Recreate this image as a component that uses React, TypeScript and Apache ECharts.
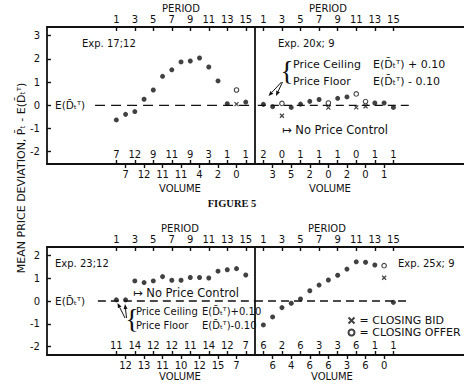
import React, { useEffect, useRef } from 'react';
import * as echarts from 'echarts';

// ---------- data ----------
const periods = [1, 2, 3, 4, 5, 6, 7, 8, 9, 10, 11, 12, 13, 14, 15];
const oddPeriods = [1, 3, 5, 7, 9, 11, 13, 15];
const evenPeriods = [2, 4, 6, 8, 10, 12, 14];
const topYTicks = [-2, -1, 0, 1, 2, 3];
const bottomYTicks = [-2, -1, 0, 1, 2];

// Exp. 17;12 (top left)
const exp17Mean = [-0.63, -0.39, -0.27, 0.26, 0.66, 1.25, 1.53, 1.87, 1.91, 2.04, 1.65, 1.05, 0.07, null, 0.14];
const exp17Bid = [null, null, null, null, null, null, null, null, null, null, null, null, null, 0.05, null];
const exp17Offer = [null, null, null, null, null, null, null, null, null, null, null, null, null, 0.66, null];
const exp17Volume = [7, 7, 12, 12, 9, 11, 11, 11, 9, 4, 3, 2, 1, 0, 1];

// Exp. 20x; 9 (top right)
const exp20Mean = [0.04, -0.06, null, -0.09, 0.05, 0.17, 0.25, null, 0.3, 0.36, null, null, 0.1, 0.1, -0.09];
const exp20Bid = [null, null, -0.45, null, null, null, null, -0.1, null, null, -0.09, -0.04, null, null, null];
const exp20Offer = [null, null, 0.08, null, null, null, null, 0.1, null, null, 0.49, 0.16, null, null, null];
const exp20Volume = [2, 3, 0, 5, 1, 2, 1, 0, 1, 2, 0, 0, 1, 1, 1];

// Exp. 23;12 (bottom left)
const exp23Mean = [0.05, 0.05, 0.88, 0.81, 0.88, 1.07, 0.91, 0.91, 1.03, 1.03, 1.01, 1.31, 1.37, 1.42, 1.14];
const exp23Volume = [11, 12, 14, 13, 12, 11, 12, 10, 11, 12, 14, 15, 12, 7, 7];

// Exp. 25x; 9 (bottom right)
const exp25Mean = [-1.05, -0.7, -0.29, -0.1, 0.09, 0.45, 0.7, 0.92, 1.13, 1.4, 1.72, 1.7, 1.58, null, -0.06];
const exp25Bid = [null, null, null, null, null, null, null, null, null, null, null, null, null, 1.02, null];
const exp25Offer = [null, null, null, null, null, null, null, null, null, null, null, null, null, 1.55, null];
const exp25Volume = [6, 6, 2, 4, 6, 6, 3, 6, 3, 3, 6, 6, 1, 0, 1];

const FONT = 'DejaVu Sans';
const BLACK = '#111';

const pairs = (vals: (number | null)[]) =>
  periods.map((p, i) => (vals[i] == null ? null : [p, vals[i]])).filter(Boolean) as number[][];

const X_SYMBOL = 'path://M0,0L10,10M10,0L0,10';

type PanelCfg = {
  grid: number;
  xMin: number;
  xMax: number;
  yMin: number;
  yMax: number;
  yTicks: number[] | null;
  volume: number[];
  mean: (number | null)[];
  bid?: (number | null)[];
  offer?: (number | null)[];
  dash: [number, number];
  dashPattern: number[];
};

function buildPanel(c: PanelCfg) {
  const lineStyle = { color: BLACK, width: 1.8 };
  const labelBase = { color: BLACK, fontFamily: FONT, fontSize: 10 };
  const xAxes = [
    {
      gridIndex: c.grid, type: 'value', position: 'top', min: c.xMin, max: c.xMax,
      axisLine: { show: true, onZero: false, lineStyle },
      axisTick: { show: true, inside: true, length: 4, customValues: oddPeriods, lineStyle: { color: BLACK, width: 1.4 } },
      axisLabel: { show: true, customValues: oddPeriods, margin: 3, ...labelBase },
      splitLine: { show: false },
    },
    {
      gridIndex: c.grid, type: 'value', position: 'bottom', min: c.xMin, max: c.xMax,
      axisLine: { show: true, onZero: false, lineStyle },
      axisTick: { show: true, inside: true, length: 4, customValues: oddPeriods, lineStyle: { color: BLACK, width: 1.4 } },
      axisLabel: { show: true, inside: true, customValues: oddPeriods, margin: 5, ...labelBase,
        formatter: (v: number) => String(c.volume[Math.round(v) - 1]) },
      splitLine: { show: false },
    },
    {
      gridIndex: c.grid, type: 'value', position: 'bottom', min: c.xMin, max: c.xMax,
      axisLine: { show: false, onZero: false },
      axisTick: { show: true, inside: false, length: 4, customValues: evenPeriods, lineStyle: { color: BLACK, width: 1.4 } },
      axisLabel: { show: true, customValues: evenPeriods, margin: 5, ...labelBase,
        formatter: (v: number) => String(c.volume[Math.round(v) - 1]) },
      splitLine: { show: false },
    },
  ];
  const yAxis = c.yTicks
    ? {
        gridIndex: c.grid, type: 'value', position: 'left', min: c.yMin, max: c.yMax,
        axisLine: { show: true, onZero: false, lineStyle },
        axisTick: { show: true, inside: true, length: 4, customValues: c.yTicks, lineStyle: { color: BLACK, width: 1.4 } },
        axisLabel: { show: true, customValues: c.yTicks, margin: 7, ...labelBase },
        splitLine: { show: false },
      }
    : {
        gridIndex: c.grid, type: 'value', position: 'left', min: c.yMin, max: c.yMax,
        axisLine: { show: true, onZero: false, lineStyle },
        axisTick: { show: false }, axisLabel: { show: false }, splitLine: { show: false },
      };
  return { xAxes, yAxis };
}

function buildSeries(c: PanelCfg, xIdx: number, yIdx: number) {
  const s: any[] = [
    {
      type: 'line', xAxisIndex: xIdx, yAxisIndex: yIdx, silent: true, symbol: 'none',
      data: [[c.dash[0], 0], [c.dash[1], 0]],
      lineStyle: { color: BLACK, width: 1.3, type: c.dashPattern },
      z: 1,
    },
    {
      name: 'MEAN', type: 'scatter', xAxisIndex: xIdx, yAxisIndex: yIdx,
      symbol: 'circle', symbolSize: 5, itemStyle: { color: BLACK }, data: pairs(c.mean), z: 3,
    },
  ];
  if (c.bid) {
    s.push({
      name: 'CLOSING BID', type: 'scatter', xAxisIndex: xIdx, yAxisIndex: yIdx,
      symbol: X_SYMBOL, symbolSize: 4,
      itemStyle: { color: 'none', borderColor: BLACK, borderWidth: 1.2 }, data: pairs(c.bid), z: 3,
    });
  }
  if (c.offer) {
    s.push({
      name: 'CLOSING OFFER', type: 'scatter', xAxisIndex: xIdx, yAxisIndex: yIdx,
      symbol: 'circle', symbolSize: 4.5,
      itemStyle: { color: '#fff', borderColor: BLACK, borderWidth: 1.1 }, data: pairs(c.offer), z: 3,
    });
  }
  return s;
}

function arrow(x1: number, y1: number, x2: number, y2: number) {
  const dx = x2 - x1, dy = y2 - y1, L = Math.hypot(dx, dy);
  const ux = dx / L, uy = dy / L;
  const bx = x2 - ux * 5, by = y2 - uy * 5;
  const px = -uy * 2, py = ux * 2;
  return [
    { type: 'line', shape: { x1, y1, x2: bx, y2: by }, style: { stroke: BLACK, lineWidth: 1 } },
    { type: 'polygon', shape: { points: [[x2, y2], [bx + px, by + py], [bx - px, by - py]] }, style: { fill: BLACK } },
  ];
}

function txt(text: string, x: number, y: number, size: number, align = 'left', extra: any = {}) {
  const weight = extra.weight || 'normal';
  return {
    type: 'text', x, y,
    style: {
      text, fill: BLACK, font: `${weight} ${size}px "${extra.family || FONT}"`,
      textAlign: align, textVerticalAlign: 'middle', align, verticalAlign: 'middle',
    },
  };
}

const EDT = 'E(D\u0304\u209C\u1D40)';

export default function App() {
  const ref = useRef<HTMLDivElement>(null);
  useEffect(() => {
    if (!ref.current) return;
    const chart = echarts.init(ref.current, null, { renderer: 'svg' });

    const panels: PanelCfg[] = [
      { grid: 0, xMin: -6.5, xMax: 16, yMin: -2.53, yMax: 3.375, yTicks: topYTicks, volume: exp17Volume,
        mean: exp17Mean, bid: exp17Bid, offer: exp17Offer, dash: [-1.3, 16], dashPattern: [10, 6] },
      { grid: 1, xMin: 0.1, xMax: 22.6, yMin: -2.53, yMax: 3.375, yTicks: null, volume: exp20Volume,
        mean: exp20Mean, bid: exp20Bid, offer: exp20Offer, dash: [0.4, 16.8], dashPattern: [8, 5] },
      { grid: 2, xMin: -6.5, xMax: 16, yMin: -2.37, yMax: 2.37, yTicks: bottomYTicks, volume: exp23Volume,
        mean: exp23Mean, dash: [-1.0, 16], dashPattern: [8, 5] },
      { grid: 3, xMin: 0.1, xMax: 22.6, yMin: -2.37, yMax: 2.37, yTicks: null, volume: exp25Volume,
        mean: exp25Mean, bid: exp25Bid, offer: exp25Offer, dash: [0.1, 16.7], dashPattern: [8, 5] },
    ];

    const xAxis: any[] = [];
    const yAxis: any[] = [];
    let series: any[] = [];
    panels.forEach((p, i) => {
      const { xAxes, yAxis: ya } = buildPanel(p);
      xAxis.push(...xAxes);
      yAxis.push(ya);
      series = series.concat(buildSeries(p, i * 3 + 1, i));
    });

    const graphic: any[] = [
      // axis titles
      txt('PERIOD', 181, 8, 10, 'center'),
      txt('PERIOD', 328, 8, 10, 'center'),
      txt('PERIOD', 180, 228, 10, 'center'),
      txt('PERIOD', 327, 228, 10, 'center'),
      txt('VOLUME', 180, 188, 10, 'center'),
      txt('VOLUME', 330, 188, 10, 'center'),
      txt('VOLUME', 180, 376, 10, 'center'),
      txt('VOLUME', 332, 376, 10, 'center'),
      txt('FIGURE 5', 232, 203, 10.5, 'center', { family: 'Liberation Serif', weight: 'bold' }),
      // y title
      {
        type: 'text', x: 21, y: 178, rotation: Math.PI / 2,
        style: {
          text: 'MEAN PRICE DEVIATION, P\u0304\u209C - ' + EDT, fill: BLACK, font: `11px "${FONT}"`,
          textAlign: 'center', textVerticalAlign: 'middle', align: 'center', verticalAlign: 'middle',
        },
      },
      // experiment labels
      txt('Exp. 17;12', 82, 43, 10),
      txt('Exp. 20x; 9', 278, 43, 10),
      txt('Exp. 23;12', 55, 263, 10),
      txt('Exp. 25x; 9', 398, 263, 10),
      // E(D) labels
      txt(EDT, 55, 105, 10.5),
      txt(EDT, 55, 301, 10.5),
      // top-right annotation
      txt('{', 287, 70, 28, 'center', { family: 'Liberation Serif' }),
      txt('Price Ceiling', 293, 64, 11),
      txt(EDT + ' + 0.10', 373, 64, 11),
      txt('Price Floor', 293, 81, 11),
      txt(EDT + ' - 0.10', 373, 81, 11),
      ...arrow(281.5, 82, 268.5, 96),
      ...arrow(282.5, 82, 276, 96),
      txt('\u21A6 No Price Control', 282, 130, 11.5),
      // bottom-left annotation
      txt('{', 132, 318, 28, 'center', { family: 'Liberation Serif' }),
      txt('Price Ceiling', 136, 311, 10),
      txt(EDT + '+0.10', 202, 311, 10),
      txt('Price Floor', 136, 325, 10),
      txt(EDT + '-0.10', 202, 325, 10),
      ...arrow(125, 318, 117.5, 303),
      ...arrow(126.5, 318, 125, 304),
      txt('\u21A6 No Price Control', 133, 293, 11.5),
    ];

    chart.setOption({
      animation: false,
      backgroundColor: '#fff',
      textStyle: { fontFamily: FONT, color: BLACK },
      grid: [
        { left: 47, top: 27, width: 208, height: 137 },
        { left: 255, top: 27, width: 209, height: 137 },
        { left: 47, top: 247, width: 208, height: 108 },
        { left: 255, top: 247, width: 209, height: 108 },
      ],
      xAxis,
      yAxis,
      series,
      legend: {
        data: ['CLOSING BID', 'CLOSING OFFER'],
        orient: 'vertical', left: 341, top: 310, itemWidth: 6, itemHeight: 6, itemGap: 1,
        selectedMode: false, formatter: '= {name}',
        textStyle: { fontFamily: FONT, fontSize: 11, color: BLACK },
      },
      graphic,
    });
    return () => chart.dispose();
  }, []);
  return <div ref={ref} style={{ position: 'fixed', left: 0, top: 0, width: 464, height: 387 }} />;
}
